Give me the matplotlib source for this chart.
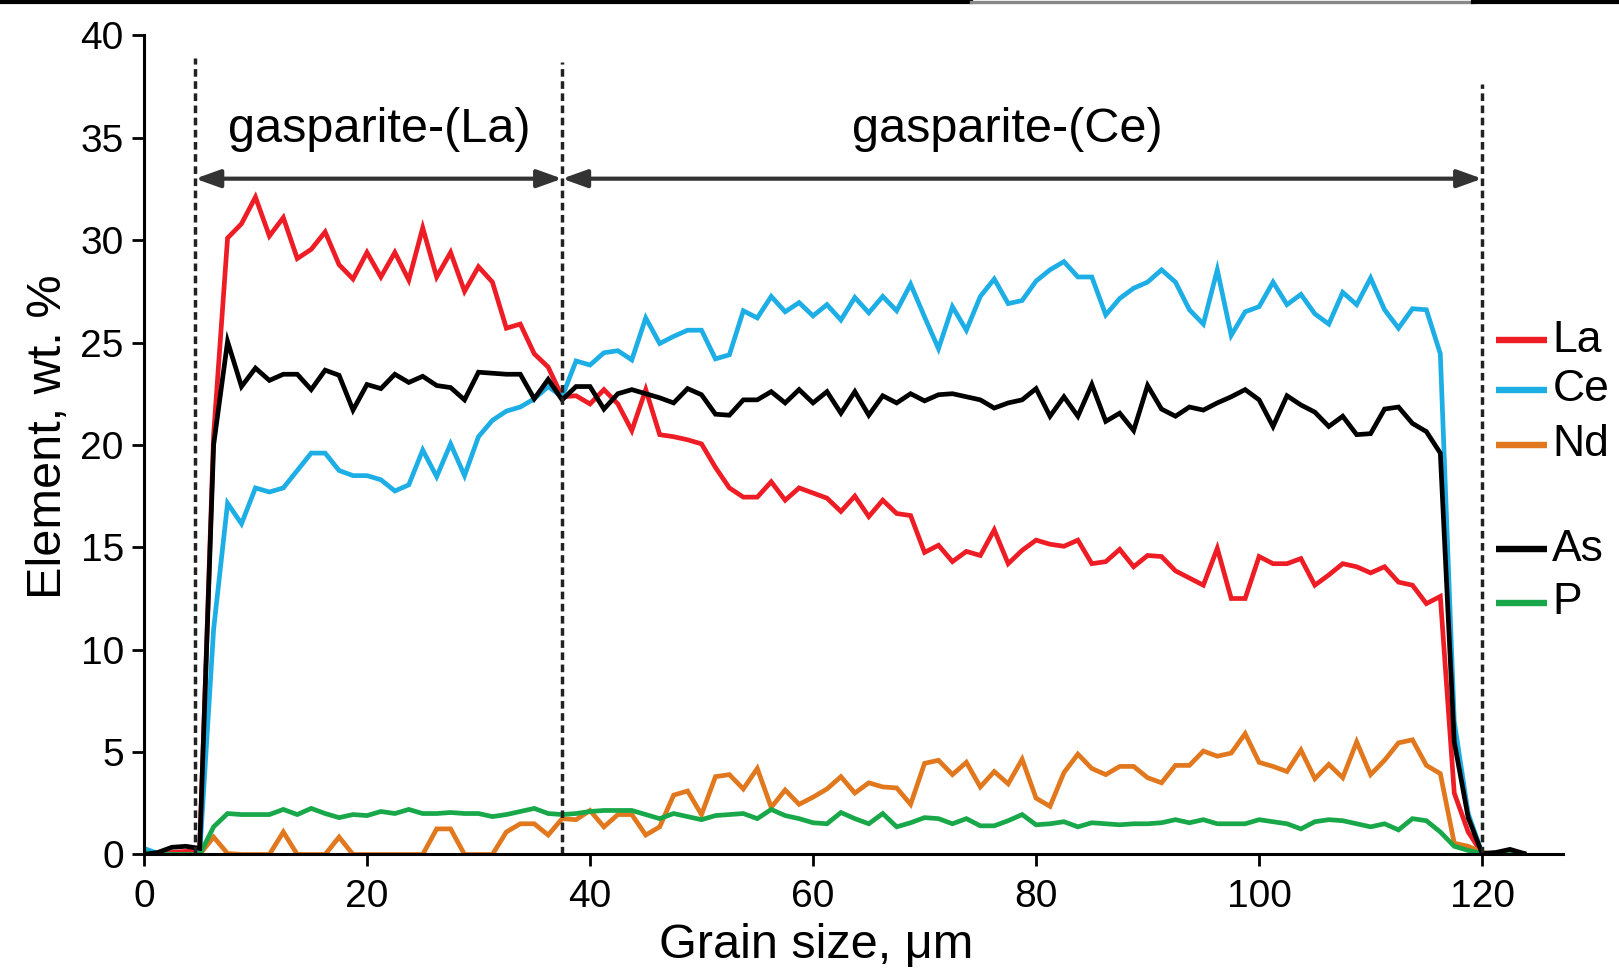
import numpy as np
import matplotlib
matplotlib.use("Agg")
import matplotlib.pyplot as plt
from matplotlib.lines import Line2D

plt.rcParams['font.family'] = ['Liberation Sans', 'DejaVu Sans']

# grain position, um (step 1.25 um, 100 points)
grain = np.arange(100) * 1.25

la = [0, 0, 0.1, 0.15, 0.2, 20.5, 30.1, 30.8, 32.1, 30.2,
      31.1, 29.1, 29.55, 30.4, 28.8, 28.1, 29.4, 28.2, 29.4, 28.05,
      30.6, 28.2, 29.4, 27.5, 28.7, 27.95, 25.7, 25.9, 24.45, 23.8,
      22.35, 22.4, 22.0, 22.7, 22.0, 20.7, 22.7, 20.5, 20.4, 20.25,
      20.05, 18.9, 17.9, 17.45, 17.45, 18.2, 17.3, 17.9, 17.65, 17.4,
      16.75, 17.5, 16.5, 17.3, 16.65, 16.55, 14.75, 15.1, 14.3, 14.8,
      14.6, 15.85, 14.2, 14.85, 15.35, 15.15, 15.05, 15.35, 14.2, 14.3,
      14.9, 14.05, 14.6, 14.55, 13.85, 13.5, 13.15, 14.95, 12.5, 12.5,
      14.55, 14.2, 14.2, 14.45, 13.15, 13.65, 14.2, 14.05, 13.75, 14.05,
      13.3, 13.15, 12.25, 12.6, 3.0, 1.1, 0.05, 0, 0, 0]

ce = [0.3, 0.05, 0, 0, 0, 11.0, 17.15, 16.15, 17.9, 17.7,
      17.9, 18.75, 19.6, 19.6, 18.75, 18.5, 18.5, 18.3, 17.75, 18.05,
      19.75, 18.45, 20.05, 18.5, 20.4, 21.2, 21.65, 21.85, 22.25, 22.85,
      22.35, 24.1, 23.9, 24.5, 24.6, 24.15, 26.2, 24.95, 25.3, 25.6,
      25.6, 24.2, 24.4, 26.55, 26.2, 27.25, 26.5, 26.95, 26.3, 26.85,
      26.1, 27.2, 26.45, 27.25, 26.55, 27.85, 26.25, 24.7, 26.75, 25.6,
      27.25, 28.1, 26.9, 27.05, 28.0, 28.55, 28.95, 28.2, 28.2, 26.35,
      27.15, 27.65, 27.95, 28.55, 27.95, 26.6, 25.9, 28.55, 25.35, 26.5,
      26.75, 27.95, 26.85, 27.35, 26.4, 25.9, 27.45, 26.85, 28.15, 26.6,
      25.7, 26.65, 26.6, 24.45, 6.5, 2.0, 0.05, 0, 0, 0]

nd = [0, 0, 0, 0, 0, 0.85, 0.05, 0, 0, 0,
      1.1, 0, 0, 0, 0.85, 0, 0, 0, 0, 0,
      0, 1.25, 1.25, 0, 0, 0, 1.1, 1.5, 1.5, 0.95,
      1.75, 1.7, 2.15, 1.35, 1.95, 1.95, 0.95, 1.35, 2.9, 3.1,
      1.95, 3.8, 3.9, 3.2, 4.2, 2.3, 3.15, 2.45, 2.8, 3.2,
      3.8, 3.0, 3.5, 3.3, 3.25, 2.45, 4.45, 4.6, 3.9, 4.5,
      3.3, 4.05, 3.45, 4.65, 2.75, 2.35, 4.0, 4.9, 4.2, 3.9,
      4.3, 4.3, 3.75, 3.5, 4.35, 4.35, 5.05, 4.8, 4.95, 5.9,
      4.5, 4.3, 4.05, 5.1, 3.7, 4.4, 3.75, 5.5, 3.9, 4.6,
      5.45, 5.6, 4.35, 3.95, 0.55, 0.4, 0.1, 0, 0, 0]

p = [0.1, 0, 0, 0, 0, 1.35, 2.0, 1.95, 1.95, 1.95,
     2.2, 1.95, 2.25, 2.0, 1.8, 1.95, 1.9, 2.1, 2.0, 2.2,
     2.0, 2.0, 2.05, 2.0, 2.0, 1.85, 1.95, 2.1, 2.25, 2.0,
     1.95, 2.0, 2.1, 2.15, 2.15, 2.15, 1.95, 1.75, 2.0, 1.85,
     1.7, 1.9, 1.95, 2.0, 1.75, 2.2, 1.9, 1.75, 1.55, 1.5,
     2.05, 1.75, 1.5, 2.0, 1.35, 1.55, 1.8, 1.75, 1.5, 1.75,
     1.4, 1.4, 1.65, 1.95, 1.45, 1.5, 1.6, 1.35, 1.55, 1.5,
     1.45, 1.5, 1.5, 1.55, 1.7, 1.55, 1.7, 1.5, 1.5, 1.5,
     1.7, 1.6, 1.5, 1.25, 1.6, 1.7, 1.65, 1.5, 1.35, 1.5,
     1.2, 1.75, 1.65, 1.1, 0.4, 0.2, 0.05, 0, 0, 0.05]

as_ = [0, 0.1, 0.35, 0.4, 0.3, 20.0, 25.05, 22.85, 23.75, 23.15,
       23.45, 23.45, 22.7, 23.65, 23.4, 21.7, 22.95, 22.75, 23.45, 23.05,
       23.35, 22.9, 22.8, 22.2, 23.55, 23.5, 23.45, 23.45, 22.25, 23.2,
       22.2, 22.85, 22.85, 21.75, 22.5, 22.7, 22.5, 22.3, 22.05, 22.75,
       22.45, 21.5, 21.45, 22.2, 22.2, 22.6, 22.05, 22.7, 22.05, 22.6,
       21.55, 22.6, 21.45, 22.4, 22.05, 22.5, 22.15, 22.45, 22.5, 22.35,
       22.2, 21.8, 22.05, 22.2, 22.75, 21.4, 22.35, 21.4, 22.95, 21.15,
       21.55, 20.7, 22.9, 21.75, 21.4, 21.85, 21.7, 22.05, 22.35, 22.7,
       22.2, 20.9, 22.4, 21.95, 21.6, 20.9, 21.4, 20.5, 20.55, 21.75,
       21.85, 21.05, 20.65, 19.6, 5.5, 1.8, 0.05, 0.1, 0.25, 0.05]

# phase boundaries (um) and zone labels
bounds = [4.6, 37.5, 120]
bound_tops = [38.9, 38.7, 37.6]
zones = ['gasparite-(La)', 'gasparite-(Ce)']

series = [('La', la, '#ee1c24'), ('Ce', ce, '#1eaee6'), ('Nd', nd, '#e2781e'),
          ('P', p, '#18a84a'), ('As', as_, '#000000')]

fig = plt.figure(figsize=(16.19, 9.73), dpi=100)
ax = fig.add_axes([0.0889, 0.1218, 0.8765, 0.8419])

for name, vals, col in series:
    ax.plot(grain, vals, color=col, lw=3.4, solid_joinstyle='miter')

for b, top in zip(bounds, bound_tops):
    ax.plot([b, b], [0, top], color='#222222', lw=2.5, dashes=(2.2, 1.3), clip_on=False)

# double arrows spanning the two zones
for x0, x1 in [(bounds[0], bounds[1]), (bounds[1], bounds[2])]:
    ax.annotate('', xy=(x1, 33), xytext=(x0, 33),
                arrowprops=dict(arrowstyle='<|-|>,head_length=1.0,head_width=0.36',
                                color='#333333', lw=3.0, mutation_scale=15,
                                shrinkA=0, shrinkB=0))
ax.text(21.07, 35.4, zones[0], fontsize=35, ha='center', va='center')
ax.text(77.45, 35.4, zones[1], fontsize=35, ha='center', va='center')

# legend drawn beside the last boundary
leg_y = {'La': 25.1, 'Ce': 22.7, 'Nd': 20.0, 'As': 14.9, 'P': 12.3}
for name, vals, col in series:
    y = leg_y[name]
    ax.plot([121.2, 125.8], [y, y], color=col, lw=4.6, clip_on=False,
            solid_capstyle='butt')
    ax.text(126.3, y, name, fontsize=32, ha='left', va='center')

ax.set_xlim(0, 127.25)
ax.set_ylim(0, 40)
ax.set_xticks(range(0, 121, 20))
ax.set_yticks(range(0, 41, 5))
ax.tick_params(labelsize=28, length=8.5, width=2.0, pad=6)
ax.tick_params(axis='x', pad=9)
for s in ['top', 'right']:
    ax.spines[s].set_visible(False)
for s in ['left', 'bottom']:
    ax.spines[s].set_linewidth(2.2)

ax.set_xlabel('Grain size, μm', fontsize=35)
ax.set_ylabel('Element, wt. %', fontsize=35)
ax.xaxis.set_label_coords(0.4736, -0.084)
ax.yaxis.set_label_coords(-0.0515, 0.51)

# remnant frame line at the top edge
fig.add_artist(Line2D([0, 0.6], [0.998, 0.998], color='black', lw=3.0, transform=fig.transFigure))
fig.add_artist(Line2D([0.6, 0.91], [0.998, 0.998], color='#888888', lw=2.4, transform=fig.transFigure))
fig.add_artist(Line2D([0.91, 1], [0.998, 0.998], color='black', lw=3.0, transform=fig.transFigure))

fig.savefig('out.png', dpi=100)
